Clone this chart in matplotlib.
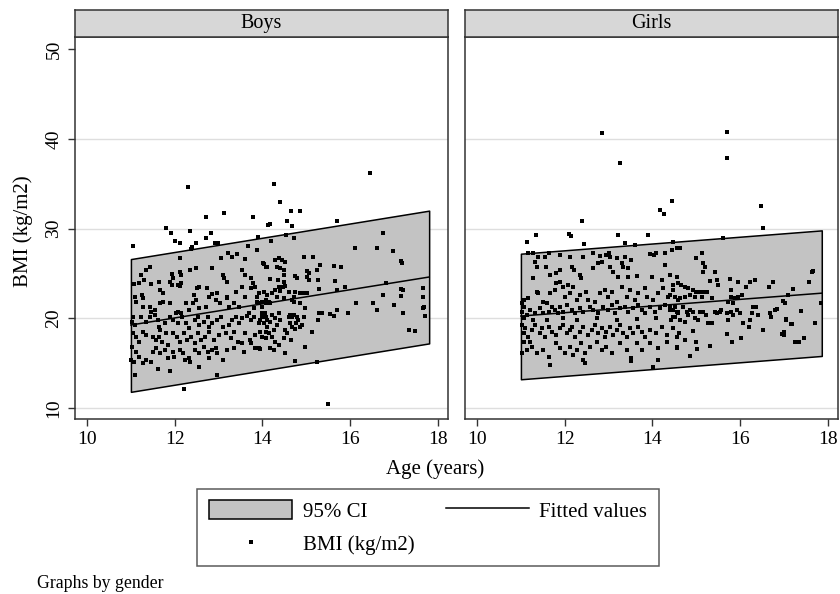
import numpy as np
import matplotlib
matplotlib.use("Agg")
import matplotlib.pyplot as plt
from matplotlib.patches import Patch
from matplotlib.lines import Line2D

plt.rcParams['font.family'] = ['Liberation Serif', 'DejaVu Serif']

# linear fit with 95% CI, end points
boys_line_age = [11.0, 17.8]
boys_fit = [19.25, 24.6]
boys_lo = [11.8, 17.2]
boys_hi = [26.6, 32.0]

girls_line_age = [11.0, 17.86]
girls_fit = [20.25, 22.8]
girls_lo = [13.2, 15.8]
girls_hi = [27.2, 29.8]

# (age, bmi) points
boys_points = [
    (12.31, 34.68), (12.72, 31.26), (13.13, 31.70), (13.79, 31.26), (11.05, 28.10), (11.80, 30.03),
    (11.92, 29.55), (12.35, 29.77), (12.01, 28.65), (12.12, 28.36), (12.71, 28.91), (12.83, 29.55),
    (12.92, 28.43), (12.98, 28.36), (12.48, 28.36), (12.39, 27.91), (12.38, 27.69), (13.90, 29.03),
    (14.13, 30.40), (12.11, 26.68), (13.05, 26.68), (13.22, 27.24), (13.30, 26.87), (13.41, 27.17),
    (13.59, 26.57), (13.67, 28.06), (13.87, 27.61), (11.43, 25.75), (11.35, 25.38), (11.24, 24.82),
    (11.29, 24.27), (11.18, 23.90), (11.93, 24.94), (11.95, 24.45), (12.11, 25.20), (12.14, 24.82),
    (12.35, 25.38), (12.48, 25.57), (12.84, 25.57), (13.09, 24.82), (13.12, 24.45), (13.18, 24.08),
    (13.54, 25.38), (13.61, 24.82), (13.73, 24.45), (13.78, 23.90), (13.84, 23.52), (14.02, 26.12),
    (14.07, 25.75), (11.06, 23.82), (11.09, 22.41), (11.25, 22.59), (11.28, 22.22), (11.46, 23.82),
    (11.65, 24.08), (11.67, 23.15), (11.73, 22.78), (11.88, 24.08), (11.94, 23.71), (12.07, 23.71),
    (12.14, 23.97), (12.13, 23.60), (12.43, 22.59), (12.50, 23.34), (12.56, 23.52), (12.73, 23.34),
    (12.86, 22.71), (12.97, 22.78), (13.20, 22.41), (13.39, 22.97), (13.54, 23.52), (13.73, 23.34),
    (13.88, 22.41), (11.12, 21.85), (11.28, 21.29), (11.43, 21.29), (11.46, 20.74), (11.54, 20.92),
    (11.67, 21.66), (11.73, 21.85), (11.88, 21.66), (12.07, 20.74), (12.14, 20.55), (12.26, 21.66),
    (12.33, 20.92), (12.42, 21.66), (12.48, 22.04), (12.56, 21.11), (12.71, 21.29), (12.78, 22.41),
    (12.94, 22.04), (13.03, 21.66), (13.20, 22.22), (13.24, 21.29), (13.35, 21.66), (13.46, 21.29),
    (13.59, 22.33), (13.69, 20.55), (13.80, 21.11), (13.88, 21.85), (13.98, 21.29), (14.07, 21.66),
    (11.05, 20.18), (11.03, 19.62), (11.09, 19.25), (11.24, 20.18), (11.35, 19.62), (11.43, 20.18),
    (11.54, 20.36), (11.61, 19.81), (11.64, 19.06), (11.67, 18.69), (11.77, 19.44), (11.88, 20.18),
    (11.95, 19.81), (12.03, 20.55), (12.07, 19.44), (12.17, 20.18), (12.26, 19.44), (12.32, 18.88),
    (12.45, 19.81), (12.52, 20.18), (12.56, 19.25), (12.67, 19.62), (12.75, 20.18), (12.78, 19.06),
    (12.86, 19.44), (12.97, 19.81), (13.05, 20.18), (13.10, 19.06), (13.24, 19.25), (13.31, 19.81),
    (13.39, 20.18), (13.46, 19.44), (13.54, 19.99), (13.65, 20.25), (13.73, 19.81), (13.80, 20.18),
    (13.92, 19.44), (13.99, 20.18), (14.05, 20.55), (14.11, 19.81), (11.05, 18.32), (11.12, 17.95),
    (11.18, 17.39), (11.28, 18.51), (11.35, 18.13), (11.50, 17.95), (11.58, 17.58), (11.65, 17.95),
    (11.71, 17.39), (11.80, 18.32), (11.84, 17.02), (11.95, 18.32), (12.04, 17.95), (12.11, 17.39),
    (12.22, 18.32), (12.29, 17.58), (12.37, 17.95), (12.45, 17.20), (12.52, 18.32), (12.60, 17.58),
    (12.69, 17.95), (12.77, 18.51), (12.90, 17.58), (13.01, 18.13), (13.16, 18.32), (13.28, 17.76),
    (13.35, 18.51), (13.45, 17.39), (13.61, 18.32), (13.71, 17.58), (13.84, 18.13), (13.95, 18.51),
    (14.07, 17.76), (11.03, 16.83), (11.11, 16.27), (11.01, 15.35), (11.08, 15.16), (11.18, 15.72),
    (11.28, 14.97), (11.35, 15.35), (11.46, 15.16), (11.50, 16.27), (11.58, 16.65), (11.67, 16.09),
    (11.77, 16.46), (11.84, 15.53), (11.95, 16.27), (11.99, 15.72), (12.11, 16.46), (12.18, 16.09),
    (12.24, 15.35), (12.33, 15.53), (12.35, 15.16), (12.45, 16.46), (12.56, 16.09), (12.67, 16.83),
    (12.75, 16.27), (12.86, 16.46), (12.94, 16.65), (12.97, 16.09), (13.09, 15.35), (13.20, 16.46),
    (13.35, 16.65), (13.58, 16.27), (13.73, 17.20), (13.84, 16.65), (13.92, 16.65), (11.10, 13.67),
    (11.61, 14.30), (11.88, 14.16), (12.22, 12.07), (12.56, 14.60), (12.78, 15.53), (12.97, 13.67),
    (13.54, 17.28),
    (16.45, 36.16), (14.26, 34.94), (14.41, 32.93), (14.65, 31.96), (14.85, 32.00), (14.57, 30.89),
    (14.67, 30.29), (14.18, 30.47), (15.71, 30.89), (14.54, 29.29), (14.71, 28.91), (14.20, 28.65),
    (16.74, 29.47), (16.12, 27.80), (16.62, 27.80), (16.97, 27.50), (17.16, 26.39), (17.18, 26.20),
    (14.29, 26.50), (14.37, 26.68), (14.45, 26.50), (14.52, 26.31), (14.33, 25.75), (14.41, 25.57),
    (14.48, 25.38), (14.03, 26.00), (14.10, 25.75), (14.94, 26.87), (15.16, 26.87), (15.30, 25.94),
    (15.24, 25.38), (15.64, 25.83), (15.79, 25.68), (15.01, 25.27), (15.05, 25.01), (14.75, 24.71),
    (14.78, 24.45), (15.01, 24.64), (15.06, 24.27), (15.26, 24.27), (15.65, 24.19), (14.16, 24.34),
    (14.35, 24.27), (14.48, 24.82), (14.48, 24.08), (14.37, 23.52), (14.46, 23.52), (14.52, 23.60),
    (15.89, 23.52), (16.81, 23.97), (17.16, 23.26), (17.20, 23.15), (14.94, 22.85), (15.01, 22.85),
    (15.28, 23.22), (15.71, 23.15), (14.33, 22.41), (14.50, 22.22), (14.67, 22.04), (14.71, 22.41),
    (16.75, 22.59), (17.15, 22.48), (17.65, 23.34), (17.65, 22.41), (13.92, 21.66), (13.99, 21.85),
    (14.07, 22.04), (14.14, 21.85), (14.18, 21.66), (16.14, 21.66), (16.52, 21.66), (16.60, 20.92),
    (16.99, 21.48), (17.69, 21.29), (17.67, 21.10), (17.20, 20.55), (17.71, 20.25), (14.97, 21.11),
    (14.94, 20.18), (15.28, 20.55), (15.35, 20.55), (15.54, 20.48), (15.62, 20.25), (15.71, 20.92),
    (15.94, 20.55), (15.26, 19.81), (15.12, 18.43), (14.97, 16.83), (14.73, 15.24), (15.24, 15.16),
    (17.35, 18.65), (17.48, 18.62), (15.50, 10.40),
    (13.99, 20.55), (14.07, 20.18), (13.95, 19.81), (14.03, 19.44), (14.11, 19.06), (14.18, 19.62),
    (14.22, 20.36), (14.29, 19.99), (14.37, 20.55), (14.41, 19.81), (14.33, 19.25), (14.26, 18.69),
    (14.14, 18.32), (14.07, 18.51), (13.99, 17.95), (14.22, 17.95), (14.29, 17.39), (14.18, 16.65),
    (14.26, 16.46), (14.37, 17.02), (14.48, 17.76), (14.52, 18.69), (14.60, 20.18), (14.63, 20.36),
    (14.67, 20.18), (14.71, 20.36), (14.78, 20.18), (14.76, 19.44), (14.82, 19.81), (14.86, 19.06),
    (14.67, 19.06), (14.63, 19.44), (14.75, 18.77), (14.51, 16.09), (13.95, 16.53), (14.56, 18.32),
    (14.64, 17.58), (14.90, 19.25), (13.92, 22.78), (14.03, 22.97), (14.11, 22.59), (14.22, 22.78),
    (14.29, 23.15), (14.41, 23.08), (14.60, 22.97), (14.75, 22.97), (14.86, 22.78), (14.71, 21.85),
    (14.86, 21.66),
]

girls_points = [
    (12.84, 40.70), (13.26, 37.35), (14.44, 33.11), (14.17, 32.07), (14.27, 31.59), (12.39, 30.88),
    (11.15, 28.54), (11.34, 29.28), (12.10, 29.36), (12.14, 29.17), (12.44, 28.28), (13.21, 29.28),
    (13.89, 29.28), (13.37, 28.35), (13.60, 28.17), (14.47, 28.54),
    (11.17, 27.31), (11.28, 27.31), (11.40, 26.87), (11.55, 26.79), (11.65, 27.31), (11.88, 27.05),
    (12.12, 26.79), (12.41, 26.87), (12.64, 27.24), (12.80, 26.94), (12.95, 27.05), (13.01, 27.24),
    (13.03, 26.87), (13.18, 26.68), (13.37, 26.79), (13.52, 26.50), (13.94, 27.17), (14.03, 27.05),
    (14.09, 27.24), (14.28, 27.24), (14.44, 27.61), (14.55, 27.80),
    (11.32, 26.31), (11.36, 25.75), (11.27, 24.45), (11.57, 25.75), (11.66, 24.82), (11.81, 25.01),
    (11.88, 25.38), (12.16, 25.75), (12.20, 25.38), (12.35, 24.82), (12.38, 24.45), (12.65, 25.57),
    (12.76, 26.12), (12.84, 26.31), (13.03, 25.75), (13.11, 25.20), (13.22, 24.64), (13.30, 26.12),
    (13.33, 25.75), (13.45, 25.57), (13.45, 24.64), (13.64, 24.71), (13.98, 24.64), (14.28, 25.94),
    (14.40, 24.82), (14.21, 24.27), (14.55, 24.64),
    (11.06, 22.04), (11.17, 22.22), (11.36, 22.96), (11.40, 22.78), (11.51, 21.85), (11.59, 21.74),
    (11.66, 22.78), (11.78, 23.15), (11.81, 23.89), (11.89, 24.08), (11.97, 23.52), (12.00, 22.41),
    (12.08, 23.71), (12.12, 22.78), (12.19, 23.52), (12.27, 22.04), (12.35, 22.59), (12.48, 22.96),
    (12.54, 22.04), (12.69, 21.85), (12.80, 22.78), (12.92, 23.15), (12.99, 22.41), (13.07, 22.96),
    (13.18, 21.85), (13.30, 23.52), (13.41, 22.41), (13.49, 23.15), (13.60, 22.04), (13.68, 22.78),
    (13.83, 23.34), (13.87, 22.41), (14.02, 22.04), (14.13, 22.78), (14.25, 23.34), (14.36, 22.41),
    (14.47, 23.15), (14.59, 22.04),
    (11.02, 21.66), (11.06, 21.29), (11.02, 20.73), (11.13, 20.36), (11.21, 20.92), (11.32, 20.55),
    (11.44, 21.11), (11.51, 20.55), (11.63, 20.73), (11.70, 21.29), (11.78, 20.92), (11.85, 20.55),
    (11.89, 21.29), (11.97, 20.73), (12.04, 21.48), (12.16, 20.92), (12.23, 20.55), (12.35, 21.11),
    (12.42, 20.73), (12.57, 21.29), (12.65, 20.92), (12.76, 20.55), (12.88, 21.29), (12.99, 20.92),
    (13.07, 21.48), (13.14, 20.55), (13.26, 21.11), (13.37, 21.29), (13.45, 20.73), (13.56, 21.11),
    (13.68, 21.48), (13.75, 20.92), (13.83, 20.55), (13.94, 21.29), (14.06, 20.73), (14.17, 21.11),
    (14.28, 21.48), (14.40, 20.92), (14.51, 21.29), (14.59, 20.73), (11.06, 19.99), (11.28, 19.81),
    (11.59, 19.81), (11.97, 19.99), (12.27, 19.81), (12.73, 19.99), (13.18, 19.81), (13.64, 19.88),
    (14.09, 19.99), (14.47, 20.18),
    (11.02, 19.25), (11.09, 18.88), (11.06, 18.32), (11.17, 17.95), (11.25, 18.69), (11.32, 19.25),
    (11.44, 18.32), (11.47, 18.88), (11.55, 17.95), (11.63, 19.06), (11.70, 18.50), (11.81, 18.13),
    (11.89, 18.88), (11.97, 19.25), (12.04, 18.32), (12.12, 18.69), (12.16, 19.06), (12.23, 17.95),
    (12.35, 18.50), (12.42, 19.06), (12.54, 18.13), (12.61, 18.69), (12.69, 19.25), (12.76, 18.32),
    (12.84, 18.88), (12.92, 17.95), (12.95, 18.50), (13.03, 19.06), (13.11, 18.13), (13.18, 18.69),
    (13.26, 19.25), (13.33, 18.32), (13.41, 17.95), (13.49, 18.88), (13.56, 18.32), (13.68, 19.06),
    (13.75, 18.50), (13.83, 17.95), (13.94, 18.69), (14.09, 18.32), (14.21, 19.06), (14.32, 18.13),
    (14.47, 18.88), (14.55, 17.95),
    (11.06, 17.39), (11.13, 16.46), (11.25, 16.83), (11.36, 16.09), (11.51, 16.46), (11.65, 15.72),
    (11.81, 17.20), (11.89, 16.65), (12.00, 16.09), (12.12, 16.83), (12.19, 15.90), (12.27, 16.46),
    (12.38, 17.20), (12.46, 16.09), (12.57, 16.83), (12.73, 17.39), (12.84, 16.46), (12.95, 16.83),
    (13.07, 16.09), (13.26, 17.20), (13.41, 16.46), (13.52, 15.53), (13.64, 17.20), (13.75, 16.46),
    (13.94, 17.20), (14.13, 16.65), (14.32, 17.39), (14.55, 16.83), (11.02, 16.09), (11.21, 17.39),
    (12.41, 15.35), (12.46, 14.97), (11.66, 14.79), (14.02, 14.53), (14.13, 15.35), (13.51, 15.20),
    (15.69, 40.81), (15.69, 37.84), (16.48, 32.52), (16.51, 30.10), (15.61, 28.91), (14.62, 27.80),
    (15.12, 27.31), (14.99, 26.68), (15.16, 26.12), (15.19, 25.75), (15.42, 25.20), (15.16, 25.20),
    (15.32, 24.19), (15.46, 24.27), (15.50, 23.71), (15.76, 24.38), (15.95, 24.00), (15.79, 23.15),
    (16.22, 24.04), (16.33, 24.27), (16.14, 23.52), (16.65, 23.52), (16.75, 24.00), (17.21, 23.22),
    (17.57, 24.08), (17.65, 25.27),
    (14.47, 23.71), (14.59, 23.89), (14.66, 23.71), (14.74, 23.52), (14.81, 23.34), (14.93, 23.15),
    (15.00, 22.96), (15.08, 22.96), (15.16, 22.96), (15.25, 22.96), (14.40, 22.59), (14.51, 22.41),
    (14.62, 22.22), (14.74, 22.41), (14.85, 22.59), (14.97, 22.41), (15.12, 22.41), (15.35, 22.22),
    (15.80, 22.41), (15.88, 22.22), (15.95, 22.41), (16.03, 22.59), (15.84, 21.74), (15.72, 21.85),
    (17.09, 22.59), (16.98, 21.93), (17.02, 21.74), (17.85, 21.74),
    (14.40, 21.29), (14.47, 20.92), (14.55, 20.73), (14.51, 20.18), (14.43, 19.81), (14.59, 20.55),
    (14.62, 19.81), (14.70, 21.29), (14.78, 20.73), (14.81, 20.36), (14.74, 19.62), (14.85, 20.92),
    (14.93, 20.73), (14.97, 19.99), (15.04, 19.81), (15.08, 20.73), (15.16, 20.73), (15.23, 20.36),
    (15.27, 19.44), (15.35, 19.44), (15.42, 20.73), (15.46, 20.55), (15.54, 20.73), (15.57, 20.92),
    (15.69, 20.55), (15.72, 19.81), (15.80, 20.73), (15.84, 20.36), (15.92, 20.92), (15.99, 20.55),
    (16.07, 19.44), (16.22, 19.81), (16.26, 20.55), (16.29, 21.29), (16.37, 21.29), (16.41, 20.36),
    (16.67, 20.62), (16.71, 20.18), (16.79, 20.92), (16.83, 20.99), (17.05, 19.81), (17.17, 19.36),
    (17.38, 20.85), (17.70, 19.51),
    (14.60, 18.32), (14.93, 18.62), (14.75, 17.58), (14.56, 16.65), (15.00, 17.39), (15.02, 16.54),
    (14.85, 15.79), (15.32, 16.91), (15.70, 18.24), (15.82, 17.39), (16.01, 17.76), (16.20, 18.99),
    (16.52, 18.69), (16.99, 18.50), (17.00, 18.13), (17.24, 17.39), (17.45, 17.76),
    (17.64, 25.17), (17.58, 24.05), (17.35, 17.36), (16.96, 18.20), (17.05, 19.90), (17.16, 19.40),
]

panel_names = ['Boys', 'Girls']
panel_left_px = [75, 465]

fig = plt.figure(figsize=(8.4, 5.94), dpi=100)
W, H = 840.0, 594.0

data = [(boys_points, boys_line_age, boys_fit, boys_lo, boys_hi),
        (girls_points, girls_line_age, girls_fit, girls_lo, girls_hi)]

for i, (name, x0) in enumerate(zip(panel_names, panel_left_px)):
    pts, la, fit, lo, hi = data[i]
    pts = np.array(pts)

    ax = fig.add_axes([x0 / W, 1 - 419 / H, 373 / W, 382 / H])
    ax.set_xlim(9.725, 18.23)
    ax.set_ylim(8.77, 51.36)
    for g in [10, 20, 30, 40]:
        ax.axhline(g, color='#dedede', lw=1.0, zorder=0)

    ax.fill_between(la, lo, hi, facecolor='#c3c3c3', edgecolor='black', lw=1.1, zorder=1)
    ax.plot(la, fit, color='black', lw=1.1, zorder=2)
    ax.plot(pts[:, 0], pts[:, 1], 's', color='black', ms=2.8, mew=0, zorder=3)

    ax.set_xticks([10, 12, 14, 16, 18])
    ax.set_yticks([10, 20, 30, 40, 50])
    ax.tick_params(direction='out', length=5, width=1, color='#333333',
                   labelsize=14, pad=4)
    ax.tick_params(axis='y', labelrotation=90)
    for lbl in ax.get_yticklabels():
        lbl.set_va('center')
    if i == 1:
        ax.tick_params(axis='y', left=False, labelleft=False)
    for s in ax.spines.values():
        s.set_color('#333333')
        s.set_linewidth(1.1)

    strip = fig.add_axes([x0 / W, 1 - 37 / H, 373 / W, 27.5 / H])
    strip.set_facecolor('#d7d7d7')
    strip.set_xticks([])
    strip.set_yticks([])
    for s in strip.spines.values():
        s.set_color('#333333')
        s.set_linewidth(1.1)
    strip.text(0.5, 0.5, name, ha='center', va='center', fontsize=14.5,
               transform=strip.transAxes)

fig.text(23 / W, 1 - 231 / H, 'BMI (kg/m2)', rotation=90, ha='center', va='center', fontsize=15)
fig.text(435 / W, 1 - 469 / H, 'Age (years)', ha='center', va='center', fontsize=15)
fig.text(37 / W, 1 - 584 / H, 'Graphs by gender', ha='left', va='center', fontsize=12.8)

handles = [Patch(facecolor='#c3c3c3', edgecolor='black', lw=1.1),
           Line2D([], [], marker='s', ls='none', color='black', ms=2.8, mew=0),
           Line2D([], [], color='black', lw=1.1)]
labels = ['95% CI', 'BMI (kg/m2)', 'Fitted values']
leg = fig.legend(handles, labels, ncol=2, loc='center',
                 bbox_to_anchor=(428 / W, 1 - 527.5 / H), fontsize=15,
                 frameon=True, fancybox=False, handlelength=4.0, handleheight=1.05,
                 handletextpad=0.5, columnspacing=1.5, labelspacing=0.55,
                 borderpad=0.55)
leg.get_frame().set_edgecolor('#333333')
leg.get_frame().set_linewidth(1.1)

fig.savefig('out.png', dpi=100)
